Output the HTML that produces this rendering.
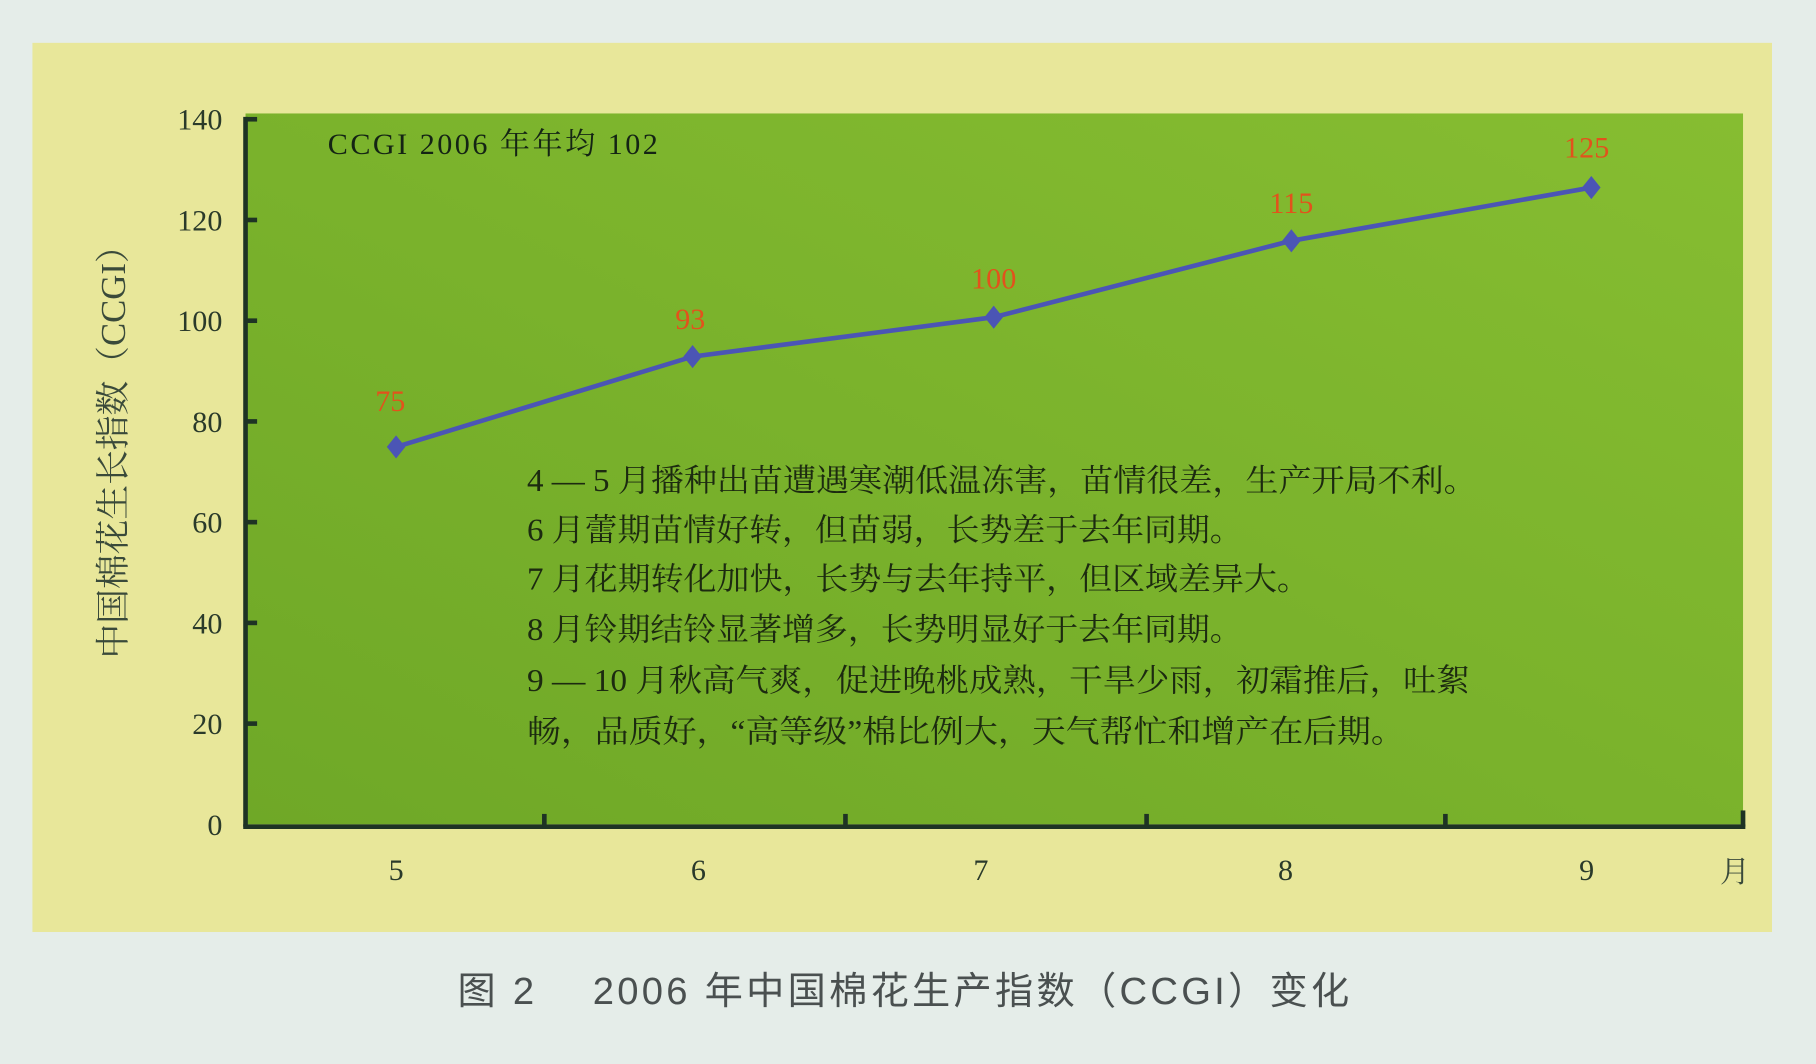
<!DOCTYPE html>
<html><head><meta charset="utf-8"><style>html,body{margin:0;padding:0;background:#e5ede9;}svg{display:block}</style></head>
<body>
<svg width="1816" height="1064" viewBox="0 0 1568 919" preserveAspectRatio="none" xmlns="http://www.w3.org/2000/svg">
<defs>
<linearGradient id="g" x1="0" y1="1" x2="1" y2="0">
<stop offset="0" stop-color="#6fa827"/><stop offset="1" stop-color="#86bd31"/>
</linearGradient>
</defs>
<rect width="1568" height="919" fill="#e5ede9"/>
<rect x="28" y="37" width="1502" height="768" fill="#e8e79a"/>
<rect x="212" y="98" width="1293" height="614" fill="url(#g)"/>
<g stroke="#1e3324" stroke-width="4" fill="none">
<line x1="212" y1="101" x2="212" y2="714"/>
<line x1="210" y1="714" x2="1507" y2="714"/>
<line x1="212" y1="103" x2="222" y2="103"/>
<line x1="212" y1="190" x2="222" y2="190"/>
<line x1="212" y1="277" x2="222" y2="277"/>
<line x1="212" y1="364" x2="222" y2="364"/>
<line x1="212" y1="451" x2="222" y2="451"/>
<line x1="212" y1="538" x2="222" y2="538"/>
<line x1="212" y1="625" x2="222" y2="625"/>
<line x1="470" y1="714" x2="470" y2="703"/>
<line x1="730" y1="714" x2="730" y2="703"/>
<line x1="990" y1="714" x2="990" y2="703"/>
<line x1="1248" y1="714" x2="1248" y2="703"/>
<line x1="1505" y1="714" x2="1505" y2="700"/>
</g>
<g font-family="Liberation Serif, serif" font-size="26" fill="#2a3a2a" text-anchor="end">
<text x="192" y="112">140</text><text x="192" y="199">120</text><text x="192" y="286">100</text>
<text x="192" y="373">80</text><text x="192" y="460">60</text><text x="192" y="547">40</text>
<text x="192" y="634">20</text><text x="192" y="721">0</text>
</g>
<g font-family="Liberation Serif, serif" font-size="26" fill="#2a3a2a" text-anchor="middle">
<text x="342" y="760">5</text><text x="603" y="760">6</text><text x="847" y="760">7</text>
<text x="1110" y="760">8</text><text x="1370" y="760">9</text>
</g>
<text x="1498" y="762" text-anchor="middle" font-family="Liberation Serif, 'Noto Serif CJK SC', serif" font-size="26" fill="#3a4a3a">月</text>
<text transform="translate(108,383) rotate(-90)" text-anchor="middle" font-family="Liberation Serif, 'Noto Serif CJK SC', serif" font-size="30" fill="#3a4a3a">中国棉花生长指数（CCGI）</text>
<text x="283" y="133" font-family="Liberation Serif, 'Noto Serif CJK SC', serif" font-size="26" fill="#142414" textLength="285">CCGI  2006 年年均 102</text>
<polyline points="342,386 598,308 858,274 1115,208 1374,162" fill="none" stroke="#4b55b5" stroke-width="4"/>
<g fill="#4b55b5">
<polygon points="342,376 350,386 342,396 334,386"/>
<polygon points="598,298 606,308 598,318 590,308"/>
<polygon points="858,264 866,274 858,284 850,274"/>
<polygon points="1115,198 1123,208 1115,218 1107,208"/>
<polygon points="1374,152 1382,162 1374,172 1366,162"/>
</g>
<g font-family="Liberation Serif, serif" font-size="26" fill="#e2521c" text-anchor="middle">
<text x="337" y="355">75</text><text x="596" y="284">93</text><text x="858" y="249">100</text>
<text x="1115" y="184">115</text><text x="1370" y="136">125</text>
</g>
<g font-family="Liberation Serif, 'Noto Serif CJK SC', serif" font-size="27" fill="#1c2a10" lengthAdjust="spacingAndGlyphs">
<text x="455" y="424" textLength="820" lengthAdjust="spacingAndGlyphs">4 — 5 月播种出苗遭遇寒潮低温冻害，苗情很差，生产开局不利。</text>
<text x="455" y="467" textLength="618" lengthAdjust="spacingAndGlyphs">6 月蕾期苗情好转，但苗弱，长势差于去年同期。</text>
<text x="455" y="509" textLength="676" lengthAdjust="spacingAndGlyphs">7 月花期转化加快，长势与去年持平，但区域差异大。</text>
<text x="455" y="553" textLength="618" lengthAdjust="spacingAndGlyphs">8 月铃期结铃显著增多，长势明显好于去年同期。</text>
<text x="455" y="597" textLength="814" lengthAdjust="spacingAndGlyphs">9 — 10 月秋高气爽，促进晚桃成熟，干旱少雨，初霜推后，吐絮</text>
<text x="455" y="641" textLength="758" lengthAdjust="spacingAndGlyphs">畅，品质好，“高等级”棉比例大，天气帮忙和增产在后期。</text>
</g>
<text x="395" y="867" font-family="Liberation Sans, 'Noto Sans CJK SC', sans-serif" font-size="33" fill="#4a5050" textLength="770">图 2　 2006 年中国棉花生产指数（CCGI）变化</text>
</svg>
</body></html>
